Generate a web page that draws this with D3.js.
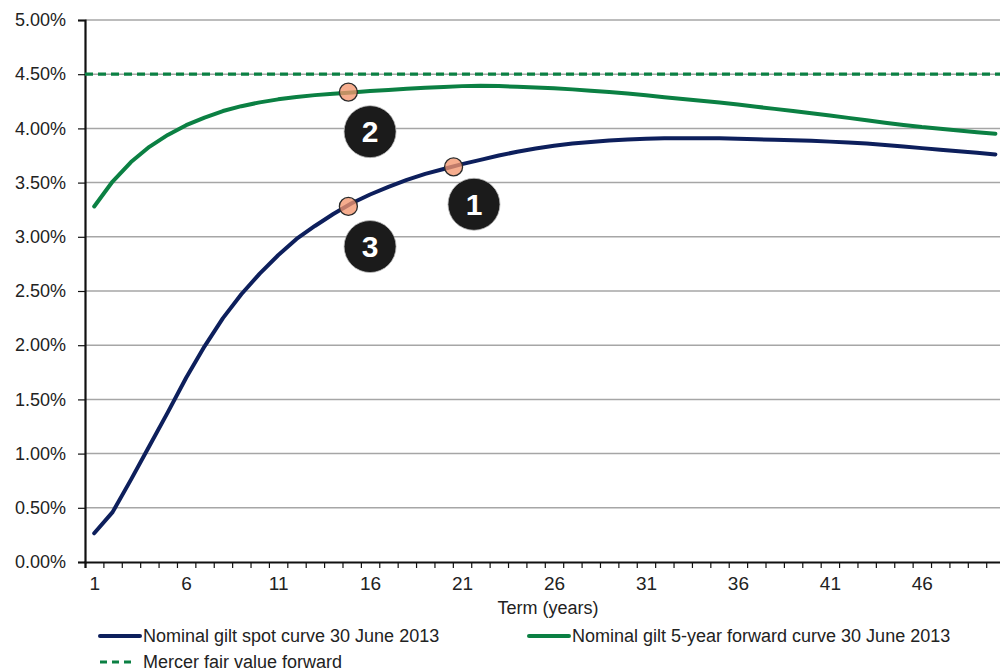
<!DOCTYPE html>
<html>
<head>
<meta charset="utf-8">
<script src="https://cdn.jsdelivr.net/npm/d3@7"></script>
<style>
  html, body { margin: 0; padding: 0; background: #fff; }
  svg { display: block; font-family: "Liberation Sans", Arial, sans-serif; }
</style>
</head>
<body>
<svg id="chart" width="1000" height="672"></svg>
<script>
// Term in years (1..50)
const terms = d3.range(1, 51);

// Nominal gilt spot curve, 30 June 2013 (% p.a.)
const spotCurve = [
  0.265, 0.46, 0.76, 1.07, 1.38, 1.70, 1.99, 2.25, 2.47, 2.66,
  2.83, 2.98, 3.10, 3.21, 3.31, 3.39, 3.46, 3.525, 3.58, 3.625,
  3.67, 3.71, 3.75, 3.785, 3.815, 3.84, 3.86, 3.875, 3.888, 3.897,
  3.904, 3.908, 3.91, 3.91, 3.908, 3.905, 3.90, 3.895, 3.89, 3.885,
  3.878, 3.87, 3.86, 3.847, 3.833, 3.818, 3.803, 3.79, 3.775, 3.76
];

// Nominal gilt 5-year forward curve, 30 June 2013 (% p.a.)
const forwardCurve = [
  3.28, 3.51, 3.69, 3.83, 3.94, 4.03, 4.10, 4.16, 4.205, 4.24,
  4.268, 4.29, 4.307, 4.32, 4.332, 4.345, 4.355, 4.365, 4.375, 4.383,
  4.39, 4.394, 4.39, 4.385, 4.378, 4.37, 4.36, 4.347, 4.335, 4.321,
  4.305, 4.288, 4.272, 4.256, 4.239, 4.22, 4.20, 4.18, 4.16, 4.14,
  4.12, 4.097, 4.075, 4.053, 4.032, 4.012, 3.996, 3.98, 3.965, 3.95
];

// Mercer fair value forward (% p.a.)
const fairValueForward = 4.50;

// Highlighted points
const highlightTerms = [20.54, 14.82, 14.82];
const highlightYields = [3.645, 4.335, 3.28];
// Numbered callouts
const calloutTerms = [21.65, 16.0, 16.0];
const calloutYields = [3.30, 3.97, 2.91];
const calloutLabels = ["1", "2", "3"];

const yTicks = [0, 0.5, 1, 1.5, 2, 2.5, 3, 3.5, 4, 4.5, 5];
const xLabelTerms = [1, 6, 11, 16, 21, 26, 31, 36, 41, 46];

const seriesNames = [
  "Nominal gilt spot curve 30 June 2013",
  "Nominal gilt 5-year forward curve 30 June 2013",
  "Mercer fair value forward"
];

const navy = "#0d1f5c";
const green = "#0b8043";

const svg = d3.select("#chart");

const x = d3.scaleLinear().domain([0.5, 50.5]).range([85, 1004.6]);
const y = d3.scaleLinear().domain([0, 5]).range([562, 20]);

// Horizontal gridlines
svg.append("g")
  .selectAll("line")
  .data(yTicks.filter(d => d > 0))
  .join("line")
  .attr("x1", x(0.5)).attr("x2", 1000)
  .attr("y1", d => y(d)).attr("y2", d => y(d))
  .attr("stroke", "#a6a6a6").attr("stroke-width", 1.5);

// Y axis
const yAxis = d3.axisLeft(y)
  .tickValues(yTicks)
  .tickSize(7)
  .tickPadding(12)
  .tickFormat(d => d3.format(".2f")(d) + "%");
const gy = svg.append("g").attr("transform", `translate(${x(0.5)},0)`).call(yAxis);
gy.select(".domain").attr("stroke", "#111").attr("stroke-width", 2.2);
gy.selectAll(".tick line").attr("stroke", "#111").attr("stroke-width", 1.2);
gy.selectAll(".tick text").attr("font-size", 18).attr("fill", "#222");

// X axis: tick marks at band edges, labels at every fifth term
const xTickMarks = d3.range(0, 51).map(k => k + 0.5);
const gx = svg.append("g").attr("transform", `translate(0,${y(0)})`)
  .call(d3.axisBottom(x).tickValues(xTickMarks).tickSize(6).tickFormat(""));
gx.select(".domain").attr("stroke", "#111").attr("stroke-width", 2.2);
gx.selectAll(".tick line").attr("stroke", "#111").attr("stroke-width", 1.2);

const gxl = svg.append("g").attr("transform", `translate(0,${y(0)})`)
  .call(d3.axisBottom(x).tickValues(xLabelTerms).tickSize(0).tickPadding(15).tickFormat(d3.format("d")));
gxl.select(".domain").remove();
gxl.selectAll(".tick text").attr("font-size", 19).attr("fill", "#222");

svg.append("text")
  .attr("x", 548).attr("y", 614)
  .attr("text-anchor", "middle")
  .attr("font-size", 18).attr("fill", "#222")
  .text("Term (years)");

// Fair value forward line
svg.append("line")
  .attr("x1", x(0.5)).attr("x2", 1000)
  .attr("y1", y(fairValueForward)).attr("y2", y(fairValueForward))
  .attr("stroke", green).attr("stroke-width", 3.2)
  .attr("stroke-dasharray", "8,5");

// Curves
const line = d3.line().x((d, i) => x(terms[i])).y(d => y(d));

svg.append("path").datum(forwardCurve)
  .attr("d", line).attr("fill", "none")
  .attr("stroke", green).attr("stroke-width", 4)
  .attr("stroke-linecap", "round").attr("stroke-linejoin", "round");

svg.append("path").datum(spotCurve)
  .attr("d", line).attr("fill", "none")
  .attr("stroke", navy).attr("stroke-width", 4)
  .attr("stroke-linecap", "round").attr("stroke-linejoin", "round");

// Highlighted points
svg.append("g").selectAll("circle")
  .data(highlightTerms)
  .join("circle")
  .attr("cx", d => x(d))
  .attr("cy", (d, i) => y(highlightYields[i]))
  .attr("r", 9)
  .attr("fill", "rgba(244,150,110,0.78)")
  .attr("stroke", "#2a2a2a").attr("stroke-width", 1.3);

// Numbered callouts
const callouts = svg.append("g").selectAll("g")
  .data(calloutLabels)
  .join("g")
  .attr("transform", (d, i) => `translate(${x(calloutTerms[i])},${y(calloutYields[i])})`);
callouts.append("circle")
  .attr("r", 26).attr("fill", "#1b1b1b")
  .attr("stroke", "#bbb").attr("stroke-width", 0.8);
callouts.append("text")
  .attr("text-anchor", "middle").attr("dy", "0.36em")
  .attr("font-size", 30).attr("font-weight", "bold").attr("fill", "#fff")
  .text(d => d);

// Legend
const legend = svg.append("g");
const legendItems = [
  { name: seriesNames[0], color: navy, dash: null, lx: 99, ly: 636 },
  { name: seriesNames[1], color: green, dash: null, lx: 528, ly: 636 },
  { name: seriesNames[2], color: green, dash: "7,5", lx: 99, ly: 662 }
];
legendItems.forEach(it => {
  legend.append("line")
    .attr("x1", it.lx + 1).attr("x2", it.lx + (it.dash ? 37 : 41))
    .attr("y1", it.ly).attr("y2", it.ly)
    .attr("stroke", it.color).attr("stroke-width", it.dash ? 3.2 : 4)
    .attr("stroke-linecap", it.dash ? "butt" : "round")
    .attr("stroke-dasharray", it.dash);
  legend.append("text")
    .attr("x", it.lx + 44).attr("y", it.ly + 6)
    .attr("font-size", 18).attr("fill", "#222")
    .text(it.name);
});
</script>
</body>
</html>
